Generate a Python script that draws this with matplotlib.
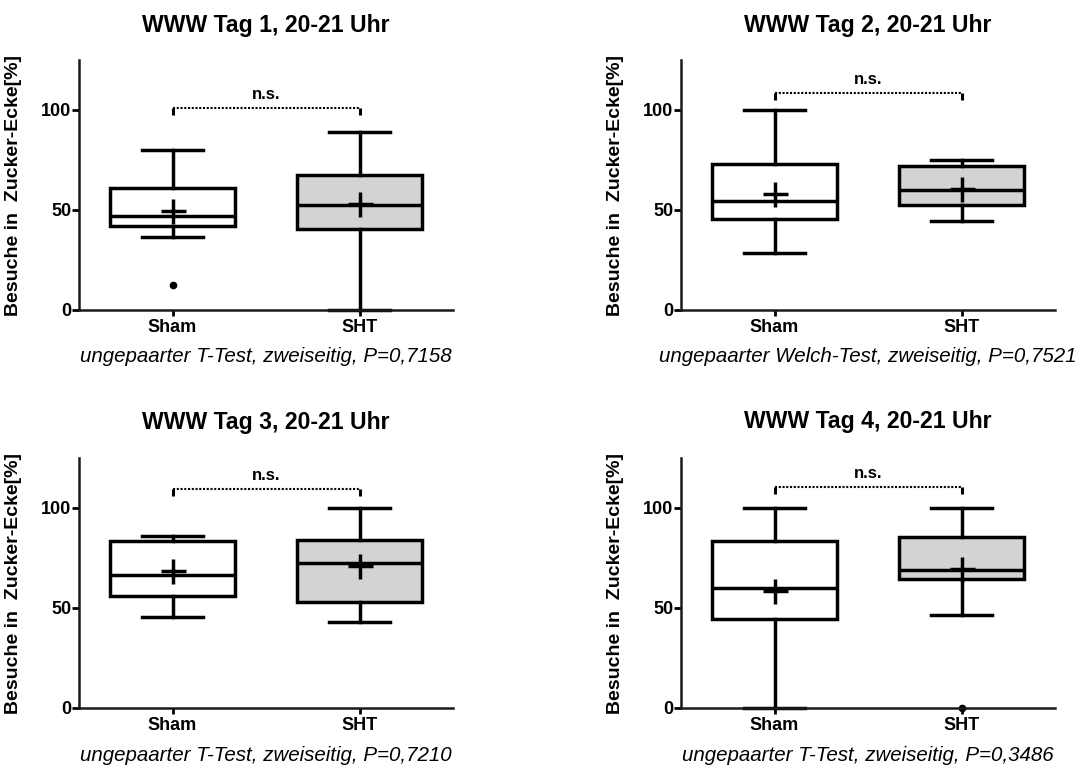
import matplotlib
matplotlib.use("Agg")
import matplotlib.pyplot as plt

plt.rcParams['font.family'] = ['Liberation Sans', 'DejaVu Sans']

W, H = 1084, 769

titles = ["WWW Tag 1, 20-21 Uhr", "WWW Tag 2, 20-21 Uhr",
          "WWW Tag 3, 20-21 Uhr", "WWW Tag 4, 20-21 Uhr"]
tests = ["ungepaarter T-Test, zweiseitig, P=0,7158",
         "ungepaarter Welch-Test, zweiseitig, P=0,7521",
         "ungepaarter T-Test, zweiseitig, P=0,7210",
         "ungepaarter T-Test, zweiseitig, P=0,3486"]
groups = ["Sham", "SHT"]
ylabel = "Besuche in  Zucker-Ecke[%]"
yticks = [0, 50, 100]

whislo = [[36.5, 0.0], [28.5, 44.5], [45.5, 43.0], [0.0, 46.7]]
q1 = [[42.0, 40.4], [45.4, 52.5], [55.8, 53.2], [44.5, 64.3]]
med = [[46.8, 52.5], [54.6, 60.0], [66.7, 72.6], [60.1, 69.0]]
q3 = [[60.8, 67.6], [73.0, 72.1], [83.4, 83.8], [83.3, 85.6]]
whishi = [[80.0, 88.8], [100.0, 75.0], [85.8, 100.0], [100.0, 100.0]]
means = [[49.5, 52.8], [58.2, 60.3], [68.3, 70.9], [58.7, 69.5]]
fliers = [[[12.3], []], [[], []], [[], []], [[], [0.0]]]
bracket_y = [100.8, 108.7, 109.5, 110.3]
box_colors = ["white", "#d3d3d3"]

# layout in pixels: (left, top, right, bottom)
boxes_px = [(79, 60, 453, 310), (681, 60, 1055, 310),
            (79, 458, 453, 708), (681, 458, 1055, 708)]
title_base = [31.7, 31.7, 429.3, 428.3]
test_base = [362, 362, 761, 761]

fig = plt.figure(figsize=(W / 100, H / 100), dpi=100)
lw = 2.5

for i in range(4):
    l, t, r, b = boxes_px[i]
    ax = fig.add_axes([l / W, 1 - b / H, (r - l) / W, (b - t) / H])
    stats = []
    for j in range(2):
        stats.append(dict(med=med[i][j], q1=q1[i][j], q3=q3[i][j],
                          whislo=whislo[i][j], whishi=whishi[i][j],
                          fliers=fliers[i][j], mean=means[i][j]))
    art = ax.bxp(stats, positions=[1, 2], widths=0.665, capwidths=0.33,
                 patch_artist=True, showmeans=True,
                 boxprops=dict(linewidth=lw, edgecolor="black"),
                 whiskerprops=dict(linewidth=lw, color="black"),
                 capprops=dict(linewidth=lw, color="black"),
                 medianprops=dict(linewidth=lw, color="black"),
                 meanprops=dict(marker="+", markersize=18, markeredgewidth=lw,
                                markeredgecolor="black", linestyle="none"),
                 flierprops=dict(marker="o", markersize=4.5, markerfacecolor="black",
                                 markeredgecolor="black", linestyle="none"))
    for patch, c in zip(art["boxes"], box_colors):
        patch.set_facecolor(c)
    for key in art:
        for a in art[key]:
            a.set_clip_on(False)
    for m in art["means"]:
        m.set_zorder(5)

    ax.set_xlim(0.5, 2.5)
    ax.set_ylim(0, 125)
    ax.set_yticks(yticks)
    ax.set_xticks([1, 2])
    ax.set_xticklabels(groups, fontsize=13, fontweight="bold")
    ax.set_yticklabels([str(v) for v in yticks], fontsize=13, fontweight="bold")
    ax.tick_params(axis="x", length=4, width=2, pad=2.5)
    ax.tick_params(axis="y", length=5, width=2, pad=0.5)
    for s in ["top", "right"]:
        ax.spines[s].set_visible(False)
    for s in ["left", "bottom"]:
        ax.spines[s].set_linewidth(1.8)
        ax.spines[s].set_color("#1a1a1a")
    ax.set_ylabel(ylabel, fontsize=14, fontweight="bold")
    ax.yaxis.set_label_coords(-0.152, 0.5)

    # significance bracket
    by = bracket_y[i]
    ax.plot([1, 2], [by, by], color="black", lw=1.5, linestyle=(0, (1, 0.8)),
            clip_on=False)
    ax.plot([1, 1], [by - 3.5, by], color="black", lw=2.2, clip_on=False,
            solid_capstyle="butt")
    ax.plot([2, 2], [by - 3.5, by], color="black", lw=2.2, clip_on=False,
            solid_capstyle="butt")
    ax.text(1.5, by + 3.0, "n.s.", ha="center", va="bottom", fontsize=12,
            fontweight="bold")

    cx = (l + r) / 2
    fig.text(cx / W, 1 - title_base[i] / H, titles[i], ha="center",
             va="baseline", fontsize=16.6, fontweight="bold")
    fig.text(cx / W, 1 - test_base[i] / H, tests[i], ha="center",
             va="baseline", fontsize=14.8, style="italic")

fig.savefig("out.png", dpi=100, facecolor="white")
